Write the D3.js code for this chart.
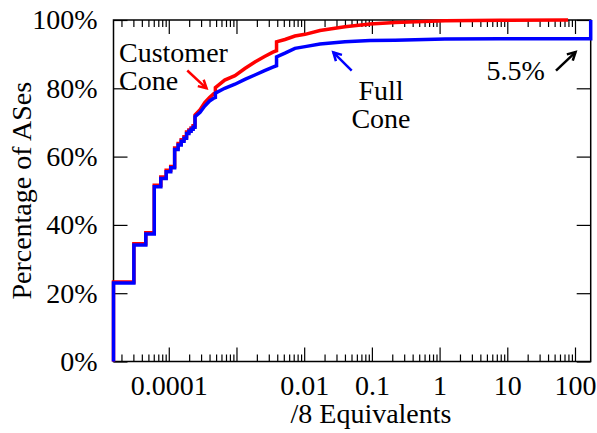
<!DOCTYPE html>
<html>
<head>
<meta charset="utf-8">
<script src="https://cdn.jsdelivr.net/npm/d3@7"></script>
</head>
<body style="margin:0">
<svg id="chart" width="597" height="433" font-family="Liberation Serif" font-size="28"></svg>
<script>
// Cone sizes are counted in /24 prefixes; a /8 holds 65536 of them.
const PER_SLASH8 = 65536;

// Discrete part of the CDF: cone sizes of 1..16 /24s.
const stepSizes24 = [1, 2, 3, 4, 5, 6, 7, 8, 9, 10, 11, 12, 13, 14, 15, 16];
const fullStepPct = [23.0, 34.1, 37.3, 51.2, 53.6, 55.6, 56.7, 62.1, 63.4, 64.5, 65.4, 66.8, 67.4, 68.0, 68.6, 71.7];
const customerStepPct = [23.3, 34.5, 37.7, 51.6, 54.0, 56.0, 57.1, 62.5, 63.8, 64.9, 65.8, 67.2, 67.8, 68.4, 69.0, 72.2];

// Continuous tail, x in /8 equivalents (repeated x = jump at /19 and /16).
const fullTailX = [2.9e-4, 3.4e-4, 4.0e-4, 4.6e-4, 4.88e-4, 4.88e-4, 6.7e-4, 9.5e-4, 1.33e-3, 1.87e-3, 2.6e-3, 3.45e-3, 3.906e-3, 3.906e-3, 5.2e-3, 7.3e-3, 0.0103, 0.0171, 0.040, 0.094, 0.22, 1.2, 7.9, 170.6, 170.6];
const fullTailPct = [73.0, 74.8, 76.3, 77.1, 77.3, 78.6, 80.0, 81.2, 82.6, 83.9, 85.2, 86.2, 86.6, 89.2, 90.3, 91.7, 92.2, 93.0, 93.6, 94.0, 94.1, 94.4, 94.5, 94.5, 100];
const customerTailX = [2.9e-4, 3.4e-4, 4.0e-4, 4.6e-4, 4.88e-4, 4.88e-4, 6.7e-4, 9.5e-4, 1.33e-3, 1.87e-3, 2.6e-3, 3.45e-3, 3.906e-3, 3.906e-3, 5.2e-3, 7.3e-3, 0.0103, 0.0171, 0.040, 0.094, 0.22, 1.2, 7.9, 79];
const customerTailPct = [73.7, 75.8, 77.3, 78.4, 78.6, 80.2, 82.4, 83.7, 85.8, 87.7, 89.3, 90.6, 91.0, 93.6, 94.3, 95.3, 95.8, 96.9, 98.0, 98.8, 99.3, 99.8, 99.9, 100];

// Axis ticks.
const xMajorTicks = [1e-4, 1e-3, 1e-2, 1e-1, 1, 10, 100];
const xTickLabels = ["0.0001", "", "0.01", "0.1", "1", "10", "100"];
const yTicks = [0, 20, 40, 60, 80, 100];
const yTickLabels = ["0%", "20%", "40%", "60%", "80%", "100%"];

// Annotations, placed in data coordinates.
const labels = [
  { lines: ["Customer", "Cone"], x: 1.84e-5, y: [87.7, 79.6], anchor: "start" },
  { lines: ["Full", "Cone"], x: 0.1363, y: [76.6, 68.5], anchor: "middle" },
  { lines: ["5.5%"], x: 4.935, y: [82.4], anchor: "start" }
];
const arrows = [
  { from: [1.877e-4, 85.2], to: [3.61e-4, 80.0], color: "#ff0000" },
  { from: [0.0503, 85.2], to: [0.02694, 90.5], color: "#0000ff" },
  { from: [52.4, 85.2], to: [101.9, 90.6], color: "#000000" }
];

const FONT = "Liberation Serif";
const FONT_SIZE = 28;
const svg = d3.select("#chart");
const mLeft = 113.5, mRight = 590.7, mTop = 20, mBottom = 361.5;

const xMin = stepSizes24[0] / PER_SLASH8;
const xMax = d3.max(fullTailX);
const x = d3.scaleLog().domain([xMin, xMax]).range([mLeft, mRight]);
const y = d3.scaleLinear().domain([0, 100]).range([mBottom, mTop]);

// minor ticks at 2..9 of each decade
const xMinorTicks = [];
for (let e = -5; e <= 2; e++) {
  for (let m = 2; m <= 9; m++) {
    const v = m * Math.pow(10, e);
    if (v > xMin && v < xMax) xMinorTicks.push(v);
  }
}

// serif text helper
function serif(t) {
  return t.attr("font-family", FONT).attr("font-size", FONT_SIZE)
    .attr("style", `font-family:${FONT};font-size:${FONT_SIZE}px`)
    .attr("fill", "#000");
}

function styleAxis(g) {
  g.attr("font-family", FONT).attr("font-size", FONT_SIZE);
  g.select(".domain").remove();
  g.selectAll(".tick line").attr("stroke", "#000").attr("stroke-width", 1.2);
  serif(g.selectAll("text"));
}

// bottom axis: major with labels, minor without
svg.append("g").attr("transform", `translate(0,${mBottom})`)
  .call(d3.axisBottom(x).tickValues(xMajorTicks).tickSizeInner(-14).tickSizeOuter(0)
    .tickPadding(13.5).tickFormat((d, i) => xTickLabels[i]))
  .call(styleAxis);
svg.append("g").attr("transform", `translate(0,${mBottom})`)
  .call(d3.axisBottom(x).tickValues(xMinorTicks).tickSizeInner(-7).tickSizeOuter(0).tickFormat(""))
  .call(styleAxis);
// top axis mirror
svg.append("g").attr("transform", `translate(0,${mTop})`)
  .call(d3.axisTop(x).tickValues(xMajorTicks).tickSizeInner(-14).tickSizeOuter(0).tickFormat(""))
  .call(styleAxis);
svg.append("g").attr("transform", `translate(0,${mTop})`)
  .call(d3.axisTop(x).tickValues(xMinorTicks).tickSizeInner(-7).tickSizeOuter(0).tickFormat(""))
  .call(styleAxis);
// left and right axes
svg.append("g").attr("transform", `translate(${mLeft},0)`)
  .call(d3.axisLeft(y).tickValues(yTicks).tickSizeInner(-14).tickSizeOuter(0)
    .tickPadding(16).tickFormat((d, i) => yTickLabels[i]))
  .call(styleAxis);
svg.append("g").attr("transform", `translate(${mRight},0)`)
  .call(d3.axisRight(y).tickValues(yTicks).tickSizeInner(-14).tickSizeOuter(0).tickFormat(""))
  .call(styleAxis);

// frame
svg.append("rect")
  .attr("x", mLeft).attr("y", mTop)
  .attr("width", mRight - mLeft).attr("height", mBottom - mTop)
  .attr("fill", "none").attr("stroke", "#000").attr("stroke-width", 1.5);

// axis titles
serif(svg.append("text"))
  .attr("x", 371).attr("y", 423)
  .attr("text-anchor", "middle")
  .text("/8 Equivalents");
serif(svg.append("text"))
  .attr("transform", `translate(31,${(mTop + mBottom) / 2}) rotate(-90)`)
  .attr("text-anchor", "middle")
  .text("Percentage of ASes");

// CDF vertices: staircase for the discrete part, then the tail
function cdfPoints(stepPct, tailX, tailPct) {
  const pts = [];
  let prev = 0;
  stepSizes24.forEach((n, i) => {
    const xv = n / PER_SLASH8;
    pts.push([xv, prev]);
    pts.push([xv, stepPct[i]]);
    prev = stepPct[i];
  });
  tailX.forEach((xv, i) => pts.push([xv, tailPct[i]]));
  return pts;
}

const line = d3.line().x(d => x(d[0])).y(d => y(d[1])).curve(d3.curveLinear);

const series = [
  { name: "Customer Cone", color: "#ff0000", pts: cdfPoints(customerStepPct, customerTailX, customerTailPct) },
  { name: "Full Cone", color: "#0000ff", pts: cdfPoints(fullStepPct, fullTailX, fullTailPct) }
];

svg.selectAll("path.cdf").data(series).join("path")
  .attr("class", "cdf")
  .attr("d", d => line(d.pts))
  .attr("fill", "none")
  .attr("stroke", d => d.color)
  .attr("stroke-width", 3.5)
  .attr("stroke-linejoin", "miter");

// annotation text
labels.forEach(l => {
  l.lines.forEach((t, i) => {
    serif(svg.append("text"))
      .attr("x", x(l.x)).attr("y", y(l.y[i]))
      .attr("text-anchor", l.anchor)
      .text(t);
  });
});

// annotation arrows with open heads
arrows.forEach(a => {
  const x0 = x(a.from[0]), y0 = y(a.from[1]);
  const x1 = x(a.to[0]), y1 = y(a.to[1]);
  const ang = Math.atan2(y1 - y0, x1 - x0);
  const len = 9, spread = 0.5;
  const g = svg.append("g").attr("stroke", a.color).attr("stroke-width", 2.5)
    .attr("fill", "none");
  g.append("line").attr("x1", x0).attr("y1", y0).attr("x2", x1).attr("y2", y1);
  g.append("path").attr("d",
    `M${x1 - len * Math.cos(ang - spread)},${y1 - len * Math.sin(ang - spread)}` +
    `L${x1},${y1}` +
    `L${x1 - len * Math.cos(ang + spread)},${y1 - len * Math.sin(ang + spread)}`);
});
</script>
</body>
</html>
